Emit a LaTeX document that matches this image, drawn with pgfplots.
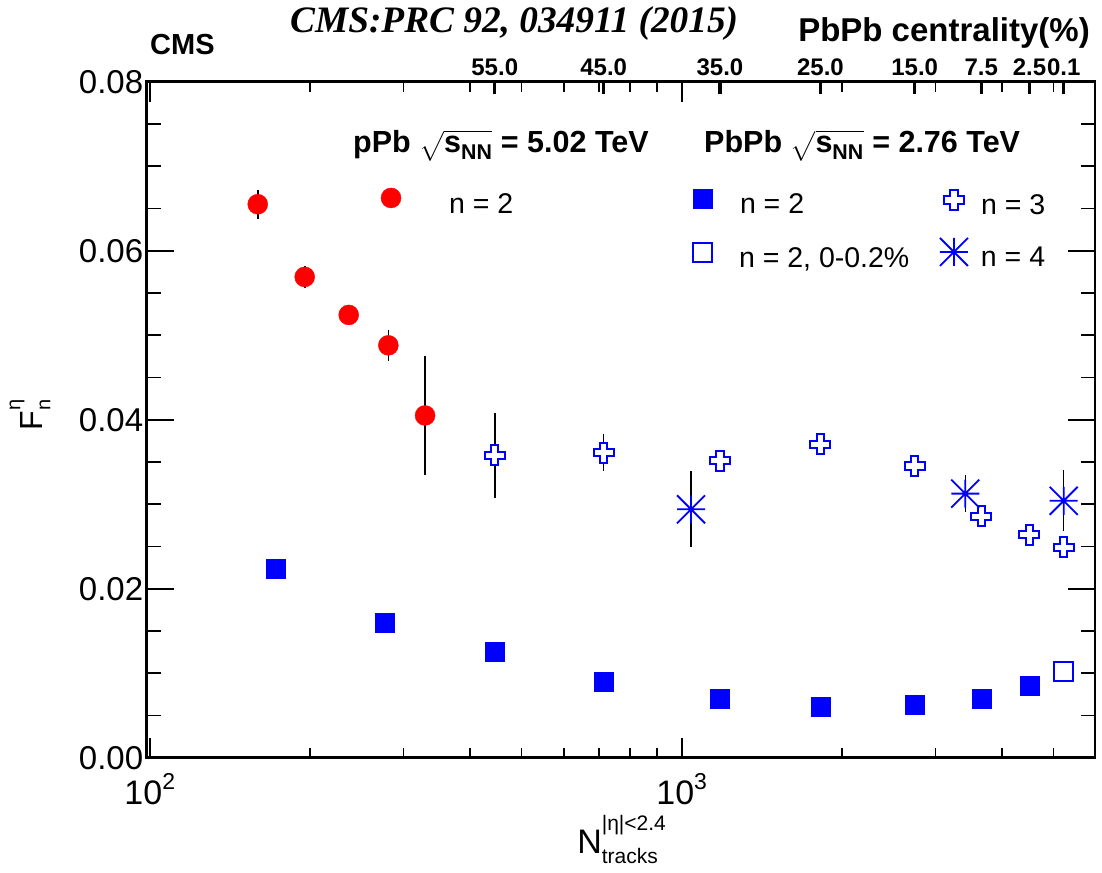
\documentclass[border=0pt]{standalone}
\usepackage{amsmath}
\usepackage{graphicx}
\usepackage{fontspec}
\setmainfont{Liberation Sans}
\newfontfamily\tnr{Liberation Serif}
\usepackage{pgfplots}
\usepackage{pgfplotstable}
\pgfplotsset{compat=1.18}

\newcommand{\FS}[1]{\fontsize{#1}{#1}\selectfont}

% open cross marker (outline of a plus)
\pgfdeclareplotmark{ocross}{%
 \pgfpathmoveto{\pgfqpoint{-0.36\pgfplotmarksize}{\pgfplotmarksize}}%
 \pgfpathlineto{\pgfqpoint{0.36\pgfplotmarksize}{\pgfplotmarksize}}%
 \pgfpathlineto{\pgfqpoint{0.36\pgfplotmarksize}{0.36\pgfplotmarksize}}%
 \pgfpathlineto{\pgfqpoint{\pgfplotmarksize}{0.36\pgfplotmarksize}}%
 \pgfpathlineto{\pgfqpoint{\pgfplotmarksize}{-0.36\pgfplotmarksize}}%
 \pgfpathlineto{\pgfqpoint{0.36\pgfplotmarksize}{-0.36\pgfplotmarksize}}%
 \pgfpathlineto{\pgfqpoint{0.36\pgfplotmarksize}{-\pgfplotmarksize}}%
 \pgfpathlineto{\pgfqpoint{-0.36\pgfplotmarksize}{-\pgfplotmarksize}}%
 \pgfpathlineto{\pgfqpoint{-0.36\pgfplotmarksize}{-0.36\pgfplotmarksize}}%
 \pgfpathlineto{\pgfqpoint{-\pgfplotmarksize}{-0.36\pgfplotmarksize}}%
 \pgfpathlineto{\pgfqpoint{-\pgfplotmarksize}{0.36\pgfplotmarksize}}%
 \pgfpathlineto{\pgfqpoint{-0.36\pgfplotmarksize}{0.36\pgfplotmarksize}}%
 \pgfpathclose
 \pgfusepathqfillstroke}
% 8-ray asterisk
\pgfdeclareplotmark{ast8}{%
 \pgfpathmoveto{\pgfqpoint{-\pgfplotmarksize}{0pt}}\pgfpathlineto{\pgfqpoint{\pgfplotmarksize}{0pt}}%
 \pgfpathmoveto{\pgfqpoint{0pt}{-\pgfplotmarksize}}\pgfpathlineto{\pgfqpoint{0pt}{\pgfplotmarksize}}%
 \pgfpathmoveto{\pgfqpoint{-\pgfplotmarksize}{-\pgfplotmarksize}}\pgfpathlineto{\pgfqpoint{\pgfplotmarksize}{\pgfplotmarksize}}%
 \pgfpathmoveto{\pgfqpoint{-\pgfplotmarksize}{\pgfplotmarksize}}\pgfpathlineto{\pgfqpoint{\pgfplotmarksize}{-\pgfplotmarksize}}%
 \pgfusepathqstroke}

\pgfplotstableread{
x y e
159.6 0.0655 0.0017
195.6 0.0569 0.0013
236.6 0.0524 0.0008
280.9 0.0488 0.0018
329.3 0.0405 0.0070
}\pPbtwo

\pgfplotstableread{
x y
172.8 0.02242
276.9 0.01593
445.2 0.01250
713.4 0.00895
1180 0.00702
1823 0.00604
2741 0.00628
3656 0.00702
4504 0.00848
}\PbPbtwo

\pgfplotstableread{
x y e
5224 0.01021 0.0007
}\PbPbtwoUC

\pgfplotstableread{
x y e
445.2 0.03577 0.0050
713.4 0.03610 0.0022
1180 0.03515 0.0012
1823 0.03711 0.0005
2741 0.03452 0.0005
3656 0.02855 0.0008
4504 0.02640 0.0005
5224 0.02490 0.0005
}\PbPbthree

\pgfplotstableread{
x y e
1041 0.02940 0.0045
3413 0.03125 0.0022
5224 0.03040 0.0036
}\PbPbfour

\definecolor{rootred}{RGB}{255,0,0}
\definecolor{rootblue}{RGB}{0,0,255}

\begin{document}
\begin{tikzpicture}
\useasboundingbox (0,0) rectangle (1102pt,872pt);
% ---------- main axis: error bars, x ticks ----------
\begin{axis}[at={(146.7pt,114.3pt)}, anchor=south west, scale only axis,
  width=948.3pt, height=676pt, xmode=log, xmin=98.7, xmax=5983,
  ymin=0, ymax=0.08, axis line style={line width=2.5pt, black},
  tick align=inside,
  ytick=\empty,
  xtick={100,1000},
  xticklabels={10\raisebox{15pt}{\FS{23}2},10\raisebox{15pt}{\FS{23}3}},
  minor xtick={200,300,400,500,600,700,800,900,2000,3000,4000,5000},
  major tick length=20pt, minor tick length=10pt,
  tick style={black, line width=1.8pt},
  xticklabel style={font=\FS{34}, yshift=-12pt},
  xlabel={N\rlap{\raisebox{23pt}{\FS{21}|η|<2.4}}\raisebox{-10pt}{\FS{21}tracks}},
  xlabel style={at={(axis description cs:0.4538,-0.141)}, anchor=base west, inner sep=0pt, font=\FS{34}},
]
\addplot[only marks, mark=none, forget plot, error bars/.cd, y dir=both, y explicit, error mark=none,
  error bar style={draw=black, line width=1.6pt}] table[x=x, y=y, y error=e] {\pPbtwo};
\addplot[only marks, mark=none, forget plot, error bars/.cd, y dir=both, y explicit, error mark=none,
  error bar style={draw=black, line width=1.6pt}] table[x=x, y=y, y error=e] {\PbPbtwoUC};
\addplot[only marks, mark=none, forget plot, error bars/.cd, y dir=both, y explicit, error mark=none,
  error bar style={draw=black, line width=1.6pt}] table[x=x, y=y, y error=e] {\PbPbthree};
\addplot[only marks, mark=none, forget plot, error bars/.cd, y dir=both, y explicit, error mark=none,
  error bar style={draw=black, line width=1.6pt}] table[x=x, y=y, y error=e] {\PbPbfour};
\end{axis}

% ---------- markers on top ----------
\begin{axis}[at={(146.7pt,114.3pt)}, anchor=south west, scale only axis,
  width=948.3pt, height=676pt, xmode=log, xmin=98.7, xmax=5983,
  ymin=0, ymax=0.08, hide axis]
\addplot[only marks, mark=*, mark size=10pt, color=rootred, forget plot] table[x=x, y=y] {\pPbtwo};
\addplot[only marks, mark=square*, mark size=9.5pt, color=rootblue, forget plot] table[x=x, y=y] {\PbPbtwo};
\addplot[only marks, mark=square*, mark size=9.5pt, forget plot,
  mark options={draw=rootblue, fill=white, line width=2pt}] table[x=x, y=y] {\PbPbtwoUC};
\addplot[only marks, mark=ocross, mark size=10pt, forget plot,
  mark options={draw=rootblue, fill=white, line width=2pt}] table[x=x, y=y] {\PbPbthree};
\addplot[only marks, mark=ast8, mark size=14pt, forget plot,
  mark options={draw=rootblue, line width=1.8pt}] table[x=x, y=y] {\PbPbfour};
\end{axis}

% ---------- y axis ticks and label ----------
\begin{axis}[at={(146.7pt,114.3pt)}, anchor=south west, scale only axis,
  width=948.3pt, height=676pt, xmode=log, xmin=98.7, xmax=5983,
  ymin=0, ymax=0.08, axis line style={line width=2.5pt, black},
  tick align=inside,
  hide x axis, scaled y ticks=false,
  ytick={0,0.02,0.04,0.06,0.08},
  yticklabels={0.00,0.02,0.04,0.06,0.08},
  minor y tick num=3,
  major tick length=27pt, minor tick length=14pt,
  tick style={black, line width=1.8pt},
  yticklabel style={font=\FS{33}},
  ylabel={F\rlap{\raisebox{22pt}{\FS{20}η}}\raisebox{-8pt}{\FS{20}n}},
  ylabel style={at={(axis description cs:-0.123,0.507)}, anchor=center, inner sep=0pt, font=\FS{32}},
]
\end{axis}

% ---------- top centrality axis ----------
\begin{axis}[at={(146.7pt,114.3pt)}, anchor=south west, scale only axis,
  width=948.3pt, height=676pt, xmode=log, xmin=98.7, xmax=5983,
  ymin=0, ymax=0.08, axis line style={line width=2.5pt, black},
  tick align=inside,
  hide y axis,
  xtick={445.2,713.4,1180,1823,2741,3656,4504,5224},
  xticklabels={55.0,45.0,35.0,25.0,15.0,7.5,2.5,0.1},
  xtick pos=right, xticklabel pos=right,
  major tick length=12pt,
  tick style={black, line width=3.2pt},
  xticklabel style={font=\FS{24}\bfseries, yshift=2pt},
]
\end{axis}

% ---------- legends ----------
\begin{axis}[at={(146.7pt,114.3pt)}, anchor=south west, scale only axis,
  width=948.3pt, height=676pt, xmin=0, xmax=1, ymin=0, ymax=1, hide axis,
  legend image code/.code={\draw[#1] plot coordinates {(0pt,0pt)};},
  legend style={draw=none, fill=none, inner sep=0pt, outer sep=0pt,
      nodes={inner sep=0pt}, font=\FS{28.5}, anchor=west, at={(0.2471,0.8280)}, column sep=48pt},
  legend cell align=left]
\addlegendimage{only marks, mark=*, mark size=10pt, color=rootred}
\addlegendentry{\smash{n = 2}\rule{0pt}{33pt}}
\end{axis}
\begin{axis}[at={(146.7pt,114.3pt)}, anchor=south west, scale only axis,
  width=948.3pt, height=676pt, xmin=0, xmax=1, ymin=0, ymax=1, hide axis,
  legend image code/.code={\draw[#1] plot coordinates {(0pt,0pt)};},
  legend style={draw=none, fill=none, inner sep=0pt, outer sep=0pt,
      nodes={inner sep=0pt}, font=\FS{28.5}, anchor=west, at={(0.5766,0.8265)}, column sep=27.5pt},
  legend cell align=left]
\addlegendimage{only marks, mark=square*, mark size=9.5pt, color=rootblue}
\addlegendentry{\smash{n = 2}\rule{0pt}{31pt}}
\end{axis}
\begin{axis}[at={(146.7pt,114.3pt)}, anchor=south west, scale only axis,
  width=948.3pt, height=676pt, xmin=0, xmax=1, ymin=0, ymax=1, hide axis,
  legend image code/.code={\draw[#1] plot coordinates {(0pt,0pt)};},
  legend style={draw=none, fill=none, inner sep=0pt, outer sep=0pt,
      nodes={inner sep=0pt}, font=\FS{28.5}, anchor=west, at={(0.8408,0.8250)}, column sep=17pt},
  legend cell align=left]
\addlegendimage{only marks, mark=ocross, mark size=10pt, mark options={draw=rootblue, fill=white, line width=2pt}}
\addlegendentry{\smash{n = 3}\rule{0pt}{31pt}}
\end{axis}
\begin{axis}[at={(146.7pt,114.3pt)}, anchor=south west, scale only axis,
  width=948.3pt, height=676pt, xmin=0, xmax=1, ymin=0, ymax=1, hide axis,
  legend image code/.code={\draw[#1] plot coordinates {(0pt,0pt)};},
  legend style={draw=none, fill=none, inner sep=0pt, outer sep=0pt,
      nodes={inner sep=0pt}, font=\FS{28.5}, anchor=west, at={(0.5761,0.7466)}, column sep=27pt},
  legend cell align=left]
\addlegendimage{only marks, mark=square*, mark size=9.5pt, mark options={draw=rootblue, fill=white, line width=2pt}}
\addlegendentry{\smash{n = 2, 0-0.2\%}\rule{0pt}{31pt}}
\end{axis}
\begin{axis}[at={(146.7pt,114.3pt)}, anchor=south west, scale only axis,
  width=948.3pt, height=676pt, xmin=0, xmax=1, ymin=0, ymax=1, hide axis,
  legend image code/.code={\draw[#1] plot coordinates {(0pt,0pt)};},
  legend style={draw=none, fill=none, inner sep=0pt, outer sep=0pt,
      nodes={inner sep=0pt}, font=\FS{28.5}, anchor=west, at={(0.8365,0.7481)}, column sep=13pt},
  legend cell align=left]
\addlegendimage{only marks, mark=ast8, mark size=14pt, mark options={draw=rootblue, line width=1.8pt}}
\addlegendentry{\smash{n = 4}\rule{0pt}{31pt}}
\end{axis}

% ---------- texts ----------
\node[anchor=base west, inner sep=0pt, font=\FS{30.5}\bfseries] at (353pt,719pt)
  {pPb\ $\sqrt{\rule[-7pt]{0pt}{25pt}\text{s}_{\text{NN}}}$ = 5.02 TeV};
\node[anchor=base west, inner sep=0pt, font=\FS{30.5}\bfseries] at (704pt,719pt)
  {PbPb\ $\sqrt{\rule[-7pt]{0pt}{25pt}\text{s}_{\text{NN}}}$ = 2.76 TeV};
\node[anchor=base west, inner sep=0pt, font=\FS{29}\bfseries] at (150pt,817pt) {CMS};
\node[anchor=base west, inner sep=0pt] at (290pt,839pt)
  {\resizebox{448pt}{!}{\tnr\bfseries\itshape\FS{37}CMS:PRC 92, 034911 (2015)}};
\node[anchor=base east, inner sep=0pt, font=\FS{33}\bfseries] at (1090pt,830pt) {PbPb centrality(\%)};
\end{tikzpicture}
\end{document}
